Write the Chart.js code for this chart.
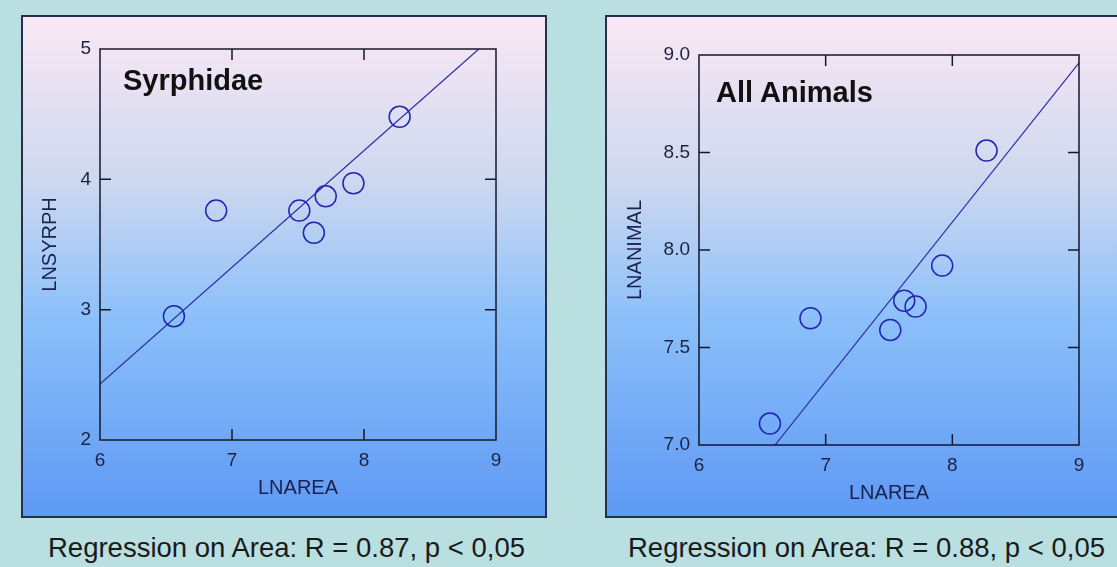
<!DOCTYPE html>
<html>
<head>
<meta charset="utf-8">
<script src="https://cdn.jsdelivr.net/npm/chart.js@4"></script>
<style>
  body { margin: 0; width: 1117px; height: 567px; overflow: hidden; background: #b9dfe0; position: relative; font-family: "Liberation Sans", Arial, sans-serif; }
  .panel { position: absolute; top: 15px; height: 503px; box-sizing: border-box; border: 2px solid #26304e;
    background: linear-gradient(#fae8f5 0%, #cdd8ef 33%, #8cc0fa 60%, #5e99f4 100%); }
  .box { position: relative; width: 100%; height: 100%; }
  .tag { position: absolute; font-weight: bold; font-size: 29px; line-height: 1; color: #111; white-space: nowrap; }
  .caption { position: absolute; top: 534px; font-size: 27.5px; line-height: 1; color: #1a1a1a; white-space: nowrap; }
</style>
</head>
<body>
<div class="panel" style="left:21px; width:526px;"><div class="box"><canvas id="syrphChart"></canvas></div></div>
<div class="panel" style="left:605px; width:520px;"><div class="box"><canvas id="animalChart"></canvas></div></div>
<div class="tag" style="left:123px; top:66px;">Syrphidae</div>
<div class="tag" style="left:716px; top:78px;">All Animals</div>
<div class="caption" style="left:48px;">Regression on Area: R = 0.87, p &lt; 0,05</div>
<div class="caption" style="left:628px;">Regression on Area: R = 0.88, p &lt; 0,05</div>
<script>
// island areas (ln) shared by both panels
const lnArea = [6.56, 6.88, 7.51, 7.62, 7.71, 7.92, 8.27];
const lnSyrph = [2.95, 3.76, 3.76, 3.59, 3.87, 3.97, 4.48];
const lnAnimal = [7.11, 7.65, 7.59, 7.74, 7.71, 7.92, 8.51];

// fitted regression line end points
const syrphFitX = [6.0, 8.87];
const syrphFitY = [2.43, 5.0];
const animalFitX = [6.6, 9.0];
const animalFitY = [7.0, 8.96];

const xTicks = [6, 7, 8, 9];
const syrphTicks = [2, 3, 4, 5];
const animalTicks = [7.0, 7.5, 8.0, 8.5, 9.0];

const inkColor = "#1d2242";
const markColor = "#2323b4";

// frame around the plot plus inward ticks on all four sides
const frameTicks = {
  id: "frameTicks",
  afterDatasetsDraw(chart) {
    const { ctx, chartArea: a, scales } = chart;
    const len = 11;
    ctx.save();
    ctx.strokeStyle = "#15172c";
    ctx.lineWidth = 1.5;
    ctx.strokeRect(a.left, a.top, a.right - a.left, a.bottom - a.top);
    ctx.beginPath();
    scales.x.ticks.slice(1, -1).forEach((t) => {
      const px = scales.x.getPixelForValue(t.value);
      ctx.moveTo(px, a.bottom); ctx.lineTo(px, a.bottom - len);
      ctx.moveTo(px, a.top); ctx.lineTo(px, a.top + len);
    });
    scales.y.ticks.slice(1, -1).forEach((t) => {
      const py = scales.y.getPixelForValue(t.value);
      ctx.moveTo(a.left, py); ctx.lineTo(a.left + len, py);
      ctx.moveTo(a.right, py); ctx.lineTo(a.right - len, py);
    });
    ctx.stroke();
    ctx.restore();
  },
};

function makeChart(id, ys, fitX, fitY, yTicks, yTitle, box) {
  const pts = lnArea.map((x, i) => ({ x: x, y: ys[i] }));
  const fit = fitX.map((x, i) => ({ x: x, y: fitY[i] }));
  const decimals = yTicks.some((v) => v % 1 !== 0) ? 1 : 0;
  return new Chart(document.getElementById(id), {
    type: "scatter",
    data: {
      datasets: [
        {
          data: pts,
          pointRadius: 10.5,
          pointHoverRadius: 10.5,
          borderColor: markColor,
          backgroundColor: "rgba(0,0,0,0)",
          borderWidth: 1.5,
        },
        {
          type: "line",
          data: fit,
          pointRadius: 0,
          borderColor: "#2a2aa6",
          borderWidth: 1.2,
          fill: false,
        },
      ],
    },
    options: {
      responsive: true,
      maintainAspectRatio: false,
      animation: false,
      layout: { padding: { left: 0, top: box.top, right: box.right, bottom: 0 } },
      plugins: { legend: { display: false }, tooltip: { enabled: false } },
      scales: {
        x: {
          type: "linear",
          min: xTicks[0],
          max: xTicks[xTicks.length - 1],
          afterBuildTicks: (s) => { s.ticks = xTicks.map((v) => ({ value: v })); },
          afterFit: (s) => { s.height = box.xHeight; },
          grid: { display: false, drawTicks: false },
          border: { display: false },
          ticks: { padding: 9, color: inkColor, font: { family: "Liberation Sans", size: 19 } },
          title: {
            display: true,
            text: "LNAREA",
            color: "#18224c",
            padding: { top: 0, bottom: box.xTitlePad },
            font: { family: "Liberation Sans", size: 20 },
          },
        },
        y: {
          type: "linear",
          min: yTicks[0],
          max: yTicks[yTicks.length - 1],
          afterBuildTicks: (s) => { s.ticks = yTicks.map((v) => ({ value: v })); },
          afterFit: (s) => { s.width = box.yWidth; },
          grid: { display: false, drawTicks: false },
          border: { display: false },
          ticks: {
            padding: 9,
            color: inkColor,
            font: { family: "Liberation Sans", size: 19 },
            callback: (v) => Number(v).toFixed(decimals),
          },
          title: {
            display: true,
            text: yTitle,
            color: "#18224c",
            padding: { top: box.yTitlePad, bottom: 0 },
            font: { family: "Liberation Sans", size: 20 },
          },
        },
      },
    },
    plugins: [frameTicks],
  });
}

makeChart("syrphChart", lnSyrph, syrphFitX, syrphFitY, syrphTicks, "LNSYRPH",
  { top: 32, right: 49, xHeight: 76, yWidth: 77, xTitlePad: 16, yTitlePad: 15 });
makeChart("animalChart", lnAnimal, animalFitX, animalFitY, animalTicks, "LNANIMAL",
  { top: 38, right: 44, xHeight: 71, yWidth: 92, xTitlePad: 11, yTitlePad: 16 });
</script>
</body>
</html>
